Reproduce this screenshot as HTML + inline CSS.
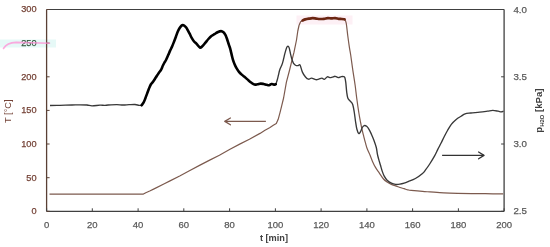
<!DOCTYPE html>
<html><head><meta charset="utf-8"><style>
html,body{margin:0;padding:0;background:#fff;width:550px;height:247px;overflow:hidden}
svg{display:block}
text{font-family:"Liberation Sans",sans-serif;font-size:9.2px}
.ll{fill:#744236;stroke:#744236;stroke-width:0.25px}
.rl,.bl{fill:#595959;stroke:#595959;stroke-width:0.25px}
.rl{font-size:9.7px}
.bl{font-size:9.5px}
.xt{fill:#404040;font-weight:bold}
.ll.g{fill:#36573f;stroke:#36573f}
.yt{fill:#744236}
.y2t{fill:#404040;font-weight:bold;font-size:9.6px}
</style></head><body>
<svg width="550" height="247" viewBox="0 0 550 247">
<rect x="0" y="39.5" width="56" height="8" fill="#e6f9f7"/>
<rect x="296.5" y="15.5" width="56" height="9" fill="#fdf0f5"/>
<line x1="46.6" y1="9.5" x2="504.1" y2="9.5" stroke="#404040" stroke-width="1.2"/>
<line x1="504.1" y1="9.5" x2="504.1" y2="211.3" stroke="#404040" stroke-width="1.3"/>
<line x1="46.6" y1="211.3" x2="504.1" y2="211.3" stroke="#404040" stroke-width="1.3"/>
<line x1="46.6" y1="9.5" x2="46.6" y2="211.3" stroke="#5a4035" stroke-width="1.3"/>
<line x1="46.6" y1="9.5" x2="49.6" y2="9.5" stroke="#5a4035" stroke-width="1"/>
<text x="36.6" y="12.3" text-anchor="end" class="ll">300</text>
<line x1="46.6" y1="43.1" x2="49.6" y2="43.1" stroke="#5a4035" stroke-width="1"/>
<text x="36.6" y="45.9" text-anchor="end" class="ll g">250</text>
<line x1="46.6" y1="76.8" x2="49.6" y2="76.8" stroke="#5a4035" stroke-width="1"/>
<text x="36.6" y="79.6" text-anchor="end" class="ll">200</text>
<line x1="46.6" y1="110.4" x2="49.6" y2="110.4" stroke="#5a4035" stroke-width="1"/>
<text x="36.6" y="113.2" text-anchor="end" class="ll">150</text>
<line x1="46.6" y1="144.0" x2="49.6" y2="144.0" stroke="#5a4035" stroke-width="1"/>
<text x="36.6" y="146.8" text-anchor="end" class="ll">100</text>
<line x1="46.6" y1="177.7" x2="49.6" y2="177.7" stroke="#5a4035" stroke-width="1"/>
<text x="36.6" y="180.5" text-anchor="end" class="ll">50</text>
<line x1="46.6" y1="211.3" x2="49.6" y2="211.3" stroke="#5a4035" stroke-width="1"/>
<text x="36.6" y="214.1" text-anchor="end" class="ll">0</text>
<line x1="501.1" y1="9.5" x2="504.1" y2="9.5" stroke="#404040" stroke-width="1"/>
<text x="513.4" y="12.6" class="rl">4.0</text>
<line x1="501.1" y1="76.8" x2="504.1" y2="76.8" stroke="#404040" stroke-width="1"/>
<text x="513.4" y="79.9" class="rl">3.5</text>
<line x1="501.1" y1="144.0" x2="504.1" y2="144.0" stroke="#404040" stroke-width="1"/>
<text x="513.4" y="147.1" class="rl">3.0</text>
<line x1="501.1" y1="211.3" x2="504.1" y2="211.3" stroke="#404040" stroke-width="1"/>
<text x="513.4" y="214.4" class="rl">2.5</text>
<line x1="46.6" y1="211.3" x2="46.6" y2="208.3" stroke="#404040" stroke-width="1"/>
<text x="46.6" y="227.6" text-anchor="middle" class="bl">0</text>
<line x1="92.3" y1="211.3" x2="92.3" y2="208.3" stroke="#404040" stroke-width="1"/>
<text x="92.3" y="227.6" text-anchor="middle" class="bl">20</text>
<line x1="138.1" y1="211.3" x2="138.1" y2="208.3" stroke="#404040" stroke-width="1"/>
<text x="138.1" y="227.6" text-anchor="middle" class="bl">40</text>
<line x1="183.8" y1="211.3" x2="183.8" y2="208.3" stroke="#404040" stroke-width="1"/>
<text x="183.8" y="227.6" text-anchor="middle" class="bl">60</text>
<line x1="229.6" y1="211.3" x2="229.6" y2="208.3" stroke="#404040" stroke-width="1"/>
<text x="229.6" y="227.6" text-anchor="middle" class="bl">80</text>
<line x1="275.4" y1="211.3" x2="275.4" y2="208.3" stroke="#404040" stroke-width="1"/>
<text x="275.4" y="227.6" text-anchor="middle" class="bl">100</text>
<line x1="321.1" y1="211.3" x2="321.1" y2="208.3" stroke="#404040" stroke-width="1"/>
<text x="321.1" y="227.6" text-anchor="middle" class="bl">120</text>
<line x1="366.9" y1="211.3" x2="366.9" y2="208.3" stroke="#404040" stroke-width="1"/>
<text x="366.9" y="227.6" text-anchor="middle" class="bl">140</text>
<line x1="412.6" y1="211.3" x2="412.6" y2="208.3" stroke="#404040" stroke-width="1"/>
<text x="412.6" y="227.6" text-anchor="middle" class="bl">160</text>
<line x1="458.4" y1="211.3" x2="458.4" y2="208.3" stroke="#404040" stroke-width="1"/>
<text x="458.4" y="227.6" text-anchor="middle" class="bl">180</text>
<line x1="504.1" y1="211.3" x2="504.1" y2="208.3" stroke="#404040" stroke-width="1"/>
<text x="504.1" y="227.6" text-anchor="middle" class="bl">200</text>
<path d="M3.5,48.5 Q7,42.8 16,42.4 L49.5,43.2" fill="none" stroke="#ff8fd6" stroke-width="1.6" stroke-linecap="round" opacity="0.75"/>
<polyline points="49.5,194.2 143.4,194.1 145.8,192.7 149.7,191.0 154.6,188.6 164.3,183.8 170.0,180.9 179.7,176.0 189.4,170.7 200.0,165.1 209.7,160.1 219.4,155.2 230.0,149.2 239.7,144.1 249.4,139.2 260.0,133.4 265.0,130.3 269.6,127.8 273.3,125.3 276.3,123.5 278.2,119.3 280.0,112.6 281.8,105.3 283.6,98.0 286.4,82.2 289.6,70.0 292.2,59.4 294.0,52.2 296.5,40.0 297.8,31.0 299.0,25.5 300.6,21.8 302.6,20.4" fill="none" stroke="#7c5a4e" stroke-width="1.2" stroke-linejoin="round"/>
<path d="M344.60,19.30 C344.87,19.93 345.67,20.32 346.20,23.10 C346.73,25.88 347.27,31.95 347.80,36.00 C348.33,40.05 348.92,44.23 349.40,47.40 C349.88,50.57 350.15,51.33 350.70,55.00 C351.25,58.67 351.97,64.40 352.70,69.40 C353.43,74.40 354.43,80.23 355.10,85.00 C355.77,89.77 356.08,93.42 356.70,98.00 C357.32,102.58 358.17,108.50 358.80,112.50 C359.43,116.50 360.02,119.40 360.50,122.00 C360.98,124.60 361.20,125.87 361.70,128.10 C362.20,130.33 362.88,132.97 363.50,135.40 C364.12,137.83 364.78,140.48 365.40,142.70 C366.02,144.92 366.42,146.60 367.20,148.70 C367.98,150.80 369.22,153.18 370.10,155.30 C370.98,157.42 371.60,159.38 372.50,161.40 C373.40,163.42 374.38,165.48 375.50,167.40 C376.62,169.32 377.87,170.97 379.20,172.90 C380.53,174.83 382.18,177.48 383.50,179.00 C384.82,180.52 385.78,181.10 387.10,182.00 C388.42,182.90 389.98,183.75 391.40,184.40 C392.82,185.05 394.18,185.38 395.60,185.90 C397.02,186.42 398.48,187.03 399.90,187.50 C401.32,187.97 402.75,188.30 404.10,188.70 C405.45,189.10 406.82,189.62 408.00,189.90 C409.18,190.18 408.78,190.15 411.20,190.40 C413.62,190.65 419.37,191.15 422.50,191.40 C425.63,191.65 426.45,191.67 430.00,191.90 C433.55,192.13 439.20,192.57 443.80,192.80 C448.40,193.03 453.00,193.17 457.60,193.30 C462.20,193.43 466.80,193.53 471.40,193.60 C476.00,193.67 479.90,193.65 485.20,193.70 C490.50,193.75 500.20,193.87 503.20,193.90" fill="none" stroke="#7c5a4e" stroke-width="1.2" stroke-linejoin="round"/>
<path d="M302.60,20.40 C303.05,20.23 304.25,19.68 305.30,19.40 C306.35,19.12 307.68,18.90 308.90,18.70 C310.12,18.50 311.38,18.22 312.60,18.20 C313.82,18.18 315.00,18.47 316.20,18.60 C317.40,18.73 318.50,18.97 319.80,19.00 C321.10,19.03 322.67,18.95 324.00,18.80 C325.33,18.65 326.55,18.17 327.80,18.10 C329.05,18.03 330.28,18.40 331.50,18.40 C332.72,18.40 333.88,18.03 335.10,18.10 C336.32,18.17 337.70,18.65 338.80,18.80 C339.90,18.95 340.73,18.92 341.70,19.00 C342.67,19.08 344.12,19.25 344.60,19.30" fill="none" stroke="#6b2612" stroke-width="2.7" stroke-linejoin="round" stroke-linecap="round"/>
<path d="M50.00,105.50 C51.67,105.47 56.33,105.38 60.00,105.30 C63.67,105.22 68.67,105.08 72.00,105.00 C75.33,104.92 77.50,104.80 80.00,104.80 C82.50,104.80 85.00,104.83 87.00,105.00 C89.00,105.17 89.83,105.77 92.00,105.80 C94.17,105.83 97.83,105.28 100.00,105.20 C102.17,105.12 103.17,105.37 105.00,105.30 C106.83,105.23 109.00,104.92 111.00,104.80 C113.00,104.68 115.00,104.57 117.00,104.60 C119.00,104.63 121.00,104.98 123.00,105.00 C125.00,105.02 127.00,104.78 129.00,104.70 C131.00,104.62 133.33,104.40 135.00,104.50 C136.67,104.60 137.90,105.17 139.00,105.30 C140.10,105.43 141.17,105.30 141.60,105.30" fill="none" stroke="#383838" stroke-width="1.35" stroke-linejoin="round"/>
<path d="M275.80,84.30 C276.05,83.53 276.85,81.27 277.30,79.70 C277.75,78.13 278.10,76.52 278.50,74.90 C278.90,73.28 279.03,71.97 279.70,70.00 C280.37,68.03 281.63,65.87 282.50,63.10 C283.37,60.33 284.18,56.03 284.90,53.40 C285.62,50.77 286.28,48.52 286.80,47.30 C287.32,46.08 287.60,46.00 288.00,46.10 C288.40,46.20 288.80,46.68 289.20,47.90 C289.60,49.12 290.00,51.68 290.40,53.40 C290.80,55.12 291.10,56.58 291.60,58.20 C292.10,59.82 292.68,61.88 293.40,63.10 C294.12,64.32 295.08,65.10 295.90,65.50 C296.72,65.90 297.60,65.55 298.30,65.50 C299.00,65.45 299.42,64.10 300.10,65.20 C300.78,66.30 301.50,70.13 302.40,72.10 C303.30,74.07 304.48,75.82 305.50,77.00 C306.52,78.18 307.50,79.00 308.50,79.20 C309.50,79.40 310.28,78.12 311.50,78.20 C312.72,78.28 314.58,79.53 315.80,79.70 C317.02,79.87 317.78,79.45 318.80,79.20 C319.82,78.95 320.98,78.17 321.90,78.20 C322.82,78.23 323.40,79.63 324.30,79.40 C325.20,79.17 326.40,77.10 327.30,76.80 C328.20,76.50 328.88,77.53 329.70,77.60 C330.52,77.67 331.28,77.42 332.20,77.20 C333.12,76.98 334.20,76.23 335.20,76.30 C336.20,76.37 337.18,77.55 338.20,77.60 C339.22,77.65 340.38,76.77 341.30,76.60 C342.22,76.43 343.10,76.40 343.70,76.60 C344.30,76.80 344.55,76.78 344.90,77.80 C345.25,78.82 345.50,80.33 345.80,82.70 C346.10,85.07 346.37,89.45 346.70,92.00 C347.03,94.55 347.22,96.47 347.80,98.00 C348.38,99.53 349.38,100.13 350.20,101.20 C351.02,102.27 352.02,102.52 352.70,104.40 C353.38,106.28 353.82,109.57 354.30,112.50 C354.78,115.43 355.17,119.20 355.60,122.00 C356.03,124.80 356.38,127.38 356.90,129.30 C357.42,131.22 358.10,133.10 358.70,133.50 C359.30,133.90 359.90,132.70 360.50,131.70 C361.10,130.70 361.68,128.52 362.30,127.50 C362.92,126.48 363.48,125.80 364.20,125.60 C364.92,125.40 365.80,125.68 366.60,126.30 C367.40,126.92 368.20,127.98 369.00,129.30 C369.80,130.62 370.58,132.38 371.40,134.20 C372.22,136.02 373.08,137.98 373.90,140.20 C374.72,142.42 375.72,145.18 376.30,147.50 C376.88,149.82 377.02,152.20 377.40,154.10 C377.78,156.00 378.10,157.08 378.60,158.90 C379.10,160.72 379.80,162.97 380.40,165.00 C381.00,167.03 381.58,169.28 382.20,171.10 C382.82,172.92 383.28,174.38 384.10,175.90 C384.92,177.42 385.88,178.98 387.10,180.20 C388.32,181.42 389.98,182.50 391.40,183.20 C392.82,183.90 394.18,184.23 395.60,184.40 C397.02,184.57 398.48,184.40 399.90,184.20 C401.32,184.00 402.70,183.63 404.10,183.20 C405.50,182.77 406.42,182.38 408.30,181.60 C410.18,180.82 413.03,179.85 415.40,178.50 C417.77,177.15 420.78,174.97 422.50,173.50 C424.22,172.03 424.50,171.28 425.70,169.70 C426.90,168.12 428.22,166.30 429.70,164.00 C431.18,161.70 433.25,158.33 434.60,155.90 C435.95,153.47 436.72,151.55 437.80,149.40 C438.88,147.25 440.02,145.15 441.10,143.00 C442.18,140.85 443.23,138.58 444.30,136.50 C445.37,134.42 446.33,132.53 447.50,130.50 C448.67,128.47 449.85,126.15 451.30,124.30 C452.75,122.45 454.57,120.75 456.20,119.40 C457.83,118.05 459.62,117.13 461.10,116.20 C462.58,115.27 463.48,114.33 465.10,113.80 C466.72,113.27 468.37,113.27 470.80,113.00 C473.23,112.73 476.93,112.50 479.70,112.20 C482.47,111.90 485.22,111.50 487.40,111.20 C489.58,110.90 491.00,110.40 492.80,110.40 C494.60,110.40 496.80,110.95 498.20,111.20 C499.60,111.45 500.32,111.90 501.20,111.90 C502.08,111.90 503.12,111.32 503.50,111.20" fill="none" stroke="#383838" stroke-width="1.35" stroke-linejoin="round"/>
<path d="M141.60,105.30 C141.92,104.87 142.88,103.83 143.50,102.70 C144.12,101.57 144.70,100.02 145.30,98.50 C145.90,96.98 146.50,95.22 147.10,93.60 C147.70,91.98 148.28,90.32 148.90,88.80 C149.52,87.28 150.08,85.72 150.80,84.50 C151.52,83.28 152.37,82.67 153.20,81.50 C154.03,80.33 154.90,78.88 155.80,77.50 C156.70,76.12 157.73,74.47 158.60,73.20 C159.47,71.93 160.30,71.13 161.00,69.90 C161.70,68.67 162.22,67.03 162.80,65.80 C163.38,64.57 163.97,63.47 164.50,62.50 C165.03,61.53 165.38,61.23 166.00,60.00 C166.62,58.77 167.53,56.62 168.20,55.10 C168.87,53.58 169.32,52.42 170.00,50.90 C170.68,49.38 171.62,47.57 172.30,46.00 C172.98,44.43 173.50,43.05 174.10,41.50 C174.70,39.95 175.30,38.32 175.90,36.70 C176.50,35.08 177.10,33.22 177.70,31.80 C178.30,30.38 178.88,29.22 179.50,28.20 C180.12,27.18 180.85,26.22 181.40,25.70 C181.95,25.18 182.30,25.10 182.80,25.10 C183.30,25.10 183.83,25.30 184.40,25.70 C184.97,26.10 185.60,26.68 186.20,27.50 C186.80,28.32 187.38,29.48 188.00,30.60 C188.62,31.72 189.28,32.98 189.90,34.20 C190.52,35.42 191.00,36.68 191.70,37.90 C192.40,39.12 193.28,40.50 194.10,41.50 C194.92,42.50 195.63,42.90 196.60,43.90 C197.57,44.90 198.95,47.10 199.90,47.50 C200.85,47.90 201.38,47.10 202.30,46.30 C203.22,45.50 204.38,43.92 205.40,42.70 C206.42,41.48 207.40,40.12 208.40,39.00 C209.40,37.88 210.40,36.80 211.40,36.00 C212.40,35.20 213.38,34.82 214.40,34.20 C215.42,33.58 216.38,32.82 217.50,32.30 C218.62,31.78 220.10,31.10 221.10,31.10 C222.10,31.10 222.78,31.68 223.50,32.30 C224.22,32.92 224.88,33.88 225.40,34.80 C225.92,35.72 226.20,36.70 226.60,37.80 C227.00,38.90 227.40,40.18 227.80,41.40 C228.20,42.62 228.60,43.88 229.00,45.10 C229.40,46.32 229.75,47.07 230.20,48.70 C230.65,50.33 231.25,53.07 231.70,54.90 C232.15,56.73 232.40,58.08 232.90,59.70 C233.40,61.32 234.10,63.18 234.70,64.60 C235.30,66.02 235.78,66.98 236.50,68.20 C237.22,69.42 238.08,70.78 239.00,71.90 C239.92,73.02 241.00,74.00 242.00,74.90 C243.00,75.80 243.93,76.40 245.00,77.30 C246.07,78.20 247.32,79.38 248.40,80.30 C249.48,81.22 250.48,82.08 251.50,82.80 C252.52,83.52 253.50,84.35 254.50,84.60 C255.50,84.85 256.48,84.47 257.50,84.30 C258.52,84.13 259.58,83.65 260.60,83.60 C261.62,83.55 262.58,83.80 263.60,84.00 C264.62,84.20 265.78,84.60 266.70,84.80 C267.62,85.00 268.30,85.33 269.10,85.20 C269.90,85.07 270.70,84.10 271.50,84.00 C272.30,83.90 273.18,84.55 273.90,84.60 C274.62,84.65 275.48,84.35 275.80,84.30" fill="none" stroke="#000" stroke-width="2.6" stroke-linejoin="round" stroke-linecap="round"/>
<line x1="224.8" y1="121.4" x2="265.9" y2="121.4" stroke="#7c5a4e" stroke-width="1.3"/>
<polyline points="230.4,118.0 224.8,121.4 230.4,124.8" fill="none" stroke="#7c5a4e" stroke-width="1.3" stroke-linejoin="round" stroke-linecap="round"/>
<line x1="442.1" y1="155.4" x2="484.1" y2="155.4" stroke="#333" stroke-width="1.3"/>
<polyline points="478.6,152.0 484.0,155.4 478.6,158.8" fill="none" stroke="#333" stroke-width="1.3" stroke-linejoin="round" stroke-linecap="round"/>
<text x="274" y="240.5" text-anchor="middle" class="xt">t [min]</text>
<text transform="translate(11.4,111.2) rotate(-90)" text-anchor="middle" class="yt">T [°C]</text>
<text transform="translate(541.9,110.6) rotate(-90)" text-anchor="middle" class="y2t">p<tspan font-size="6.2" dy="2.2">H<tspan font-size="5.2">2</tspan>O</tspan><tspan dy="-2.2"> [kPa]</tspan></text>
</svg>
</body></html>
